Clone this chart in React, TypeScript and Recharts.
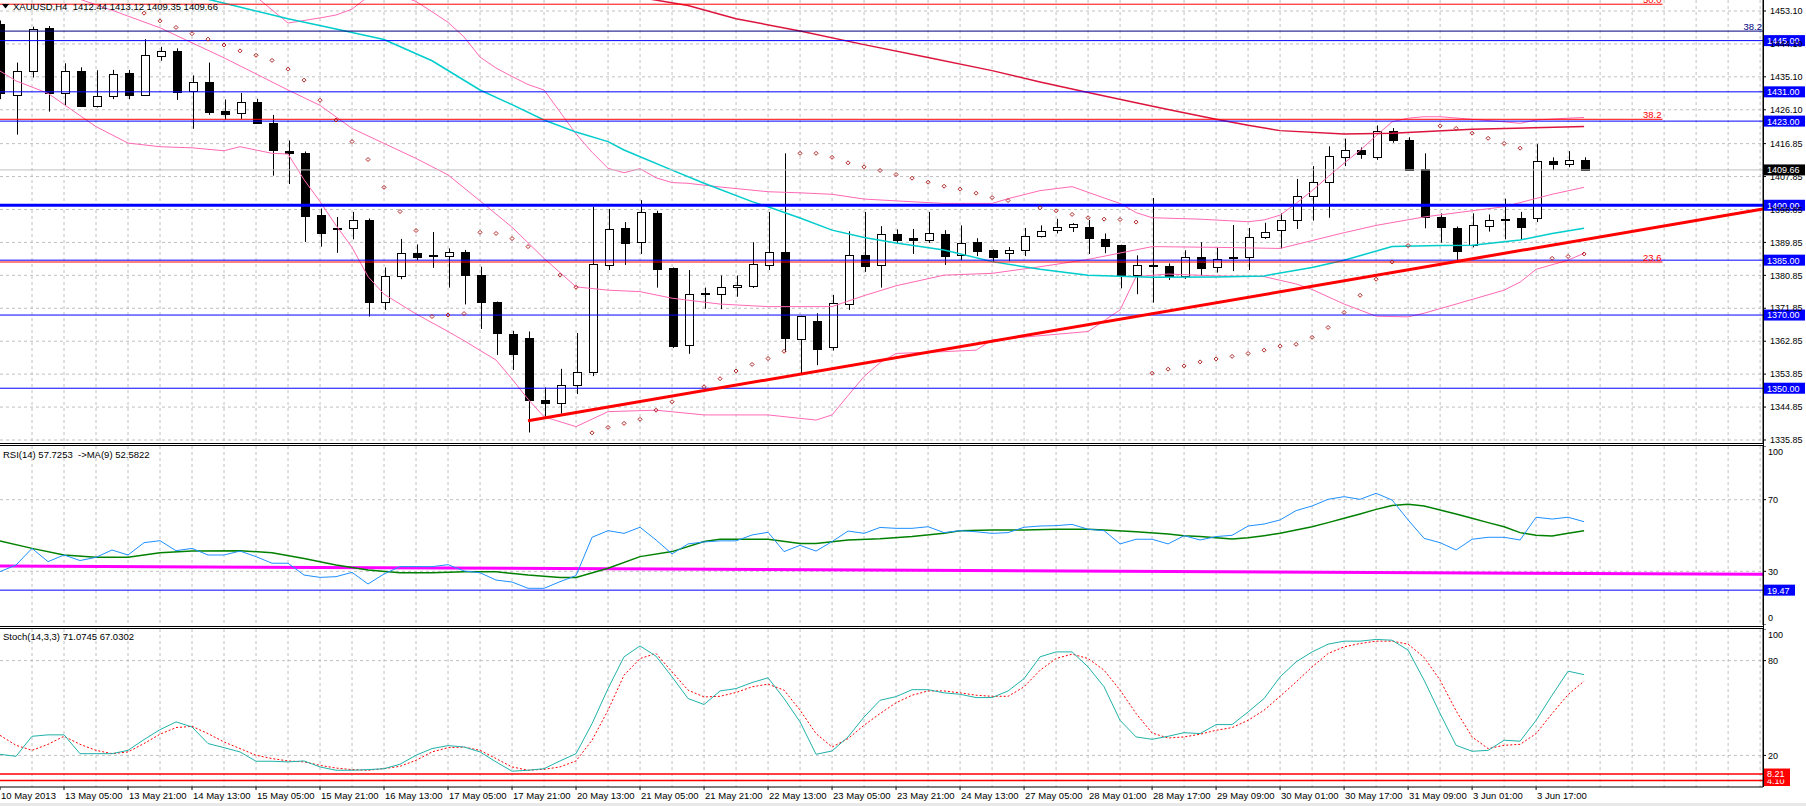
import React from "react";
import {
  Bar,
  CartesianGrid,
  ComposedChart,
  Line,
  ReferenceLine,
  Scatter,
  XAxis,
  YAxis,
} from "recharts";

const FONT = '"Liberation Sans", Arial, sans-serif';
const W = 1806;
const AXIS_W = 43;
const K_MAX = 110.18; // bar index at the right axis (16px per H4 bar)
const P_MIN = 1335.03;
const P_MAX = 1456.1;

// XAUUSD H4 bars: open, high, low, close
const candles: number[][] = [
  [1449.5, 1450.5, 1429.0, 1430.6], [1430.05, 1439.0, 1419.3, 1436.7], [1436.6, 1448.8, 1434.9, 1448.1],
  [1448.4, 1449.0, 1425.6, 1430.6], [1430.6, 1438.8, 1427.1, 1436.7], [1436.7, 1437.7, 1427.0, 1427.2],
  [1427.3, 1436.9, 1426.7, 1430.0], [1429.7, 1437.0, 1429.0, 1435.8], [1436.1, 1437.0, 1429.0, 1430.2],
  [1430.2, 1445.4, 1429.9, 1441.1], [1440.9, 1443.3, 1439.5, 1442.2], [1442.2, 1442.9, 1428.8, 1430.9],
  [1431.2, 1435.5, 1420.9, 1433.7], [1433.7, 1439.0, 1424.7, 1425.6], [1425.8, 1428.9, 1423.3, 1425.0],
  [1425.0, 1430.7, 1423.6, 1428.1], [1428.1, 1429.1, 1422.2, 1422.3], [1422.4, 1424.7, 1408.1, 1414.9],
  [1414.7, 1417.7, 1405.8, 1414.1], [1414.2, 1414.7, 1390.0, 1396.9], [1397.3, 1399.1, 1388.7, 1392.5],
  [1393.8, 1396.8, 1387.0, 1393.6], [1393.6, 1398.2, 1390.7, 1395.9], [1395.9, 1396.4, 1369.6, 1373.4],
  [1373.4, 1383.0, 1371.4, 1380.6], [1380.5, 1390.8, 1379.8, 1386.9], [1386.9, 1389.3, 1385.0, 1385.7],
  [1386.4, 1392.7, 1382.9, 1386.0], [1386.0, 1388.2, 1377.5, 1387.1], [1387.2, 1387.8, 1372.9, 1380.8],
  [1380.9, 1383.2, 1366.2, 1373.4], [1373.6, 1373.7, 1359.1, 1365.0], [1364.8, 1365.7, 1355.0, 1359.2],
  [1363.6, 1365.5, 1337.9, 1346.6], [1346.8, 1350.2, 1342.2, 1346.1], [1345.9, 1355.3, 1343.1, 1350.8],
  [1350.8, 1365.1, 1348.4, 1354.3], [1354.3, 1399.6, 1353.3, 1383.9], [1383.6, 1399.0, 1382.3, 1393.4],
  [1393.8, 1395.4, 1383.7, 1389.8], [1389.8, 1401.4, 1386.7, 1398.1], [1397.9, 1398.5, 1377.5, 1382.7],
  [1382.9, 1383.0, 1361.0, 1361.5], [1361.7, 1382.3, 1359.4, 1375.7], [1375.8, 1377.5, 1371.7, 1376.1],
  [1375.7, 1380.8, 1371.6, 1377.7], [1377.6, 1380.8, 1375.0, 1378.1], [1377.8, 1389.9, 1377.4, 1383.9],
  [1383.5, 1398.2, 1382.3, 1387.1], [1387.1, 1414.2, 1359.9, 1363.5], [1363.5, 1369.8, 1353.9, 1369.7],
  [1368.3, 1370.5, 1356.3, 1360.7], [1361.1, 1375.5, 1360.3, 1373.2], [1372.8, 1392.9, 1371.4, 1386.3],
  [1386.3, 1398.2, 1381.8, 1383.2], [1383.5, 1394.3, 1377.5, 1392.1], [1392.1, 1393.4, 1389.6, 1390.5],
  [1391.0, 1393.5, 1386.7, 1390.5], [1390.3, 1398.2, 1389.7, 1392.3], [1392.1, 1393.2, 1383.7, 1386.1],
  [1386.2, 1394.5, 1385.0, 1389.6], [1390.0, 1391.0, 1386.1, 1387.6], [1387.8, 1387.9, 1384.6, 1385.9],
  [1387.1, 1388.6, 1384.7, 1387.8], [1387.8, 1393.8, 1386.1, 1391.7], [1391.8, 1394.5, 1391.2, 1393.1],
  [1393.1, 1396.3, 1392.3, 1394.0], [1394.0, 1395.1, 1392.7, 1394.8], [1394.0, 1396.0, 1386.7, 1390.9],
  [1390.8, 1392.3, 1386.9, 1389.0], [1389.1, 1389.2, 1377.3, 1380.9], [1381.0, 1386.3, 1375.7, 1383.6],
  [1383.6, 1402.0, 1373.4, 1383.2], [1383.3, 1384.1, 1379.6, 1380.7], [1380.7, 1387.7, 1379.9, 1385.8],
  [1385.8, 1389.9, 1380.7, 1382.9], [1382.9, 1388.5, 1381.6, 1385.2], [1385.5, 1394.6, 1382.0, 1385.8],
  [1385.7, 1393.8, 1382.3, 1391.2], [1391.1, 1395.2, 1390.8, 1392.6], [1393.3, 1397.8, 1388.2, 1395.9],
  [1395.9, 1407.2, 1393.5, 1402.4], [1402.4, 1410.7, 1395.8, 1406.3], [1406.3, 1416.1, 1396.6, 1413.4],
  [1413.1, 1418.2, 1410.7, 1415.0], [1415.0, 1415.8, 1412.7, 1413.9], [1413.3, 1421.8, 1412.4, 1420.4],
  [1420.4, 1421.1, 1417.1, 1418.0], [1417.8, 1418.6, 1409.5, 1409.6], [1409.9, 1414.2, 1393.7, 1396.7],
  [1396.7, 1397.8, 1389.8, 1393.9], [1393.7, 1394.2, 1384.9, 1387.3], [1389.1, 1397.8, 1388.5, 1394.5],
  [1394.5, 1397.5, 1392.8, 1396.1], [1396.1, 1401.8, 1390.7, 1396.2], [1396.4, 1398.2, 1390.7, 1393.9],
  [1396.3, 1416.7, 1395.4, 1412.0], [1412.0, 1413.1, 1409.6, 1411.1], [1411.2, 1414.8, 1410.4, 1412.3],
  [1412.44, 1413.12, 1409.35, 1409.66],
];

// indicator readings as [bar, value]
const bbUpper = [
  [0, 1468], [4, 1467], [8, 1465], [12, 1463], [15, 1460], [16, 1457], [17, 1453.4], [18, 1449.8],
  [19, 1450.5], [20, 1451.2], [21, 1452], [22, 1453.6], [23, 1457], [24, 1458], [25, 1457.3], [26, 1455.7],
  [27, 1452.9], [28, 1450], [29, 1446], [30, 1440.5], [31, 1437.5], [32, 1435.2], [33, 1433], [34, 1431.5],
  [35, 1425.5], [36, 1419.5], [37, 1414.5], [38, 1410.1], [39, 1408.9], [40, 1410], [41, 1407.5],
  [42, 1406.2], [43, 1406], [45, 1405], [48, 1403.7], [50, 1403.4], [52, 1403], [54, 1401.7], [56, 1401.2],
  [59, 1400.5], [62, 1400.5], [63, 1401.8], [65, 1404], [67, 1405.1], [69, 1402], [70, 1400.5], [71, 1398],
  [72, 1396.6], [75, 1396.2], [78, 1395.5], [79, 1396], [80, 1397.3], [81, 1400.5], [82, 1404],
  [83, 1407.8], [84, 1411.5], [85, 1415], [86, 1419], [87, 1422.8], [88, 1423.8], [89, 1424.2],
  [90, 1424.2], [92, 1423.5], [94, 1422.8], [95, 1422.4], [96, 1423.3], [98, 1423.8], [99, 1424],
];
const bbMiddle = [
  [0, 1463], [3, 1458.5], [5, 1456.3], [7, 1453.3], [10, 1448.5], [14, 1440.3], [18, 1431.5], [20, 1427.3],
  [22, 1421], [24, 1416.9], [26, 1412.8], [28, 1408.3], [30, 1401.2], [32, 1394], [34, 1385.5], [36, 1377.7],
  [38, 1376.8], [40, 1376.4], [42, 1374.6], [45, 1373], [48, 1372.3], [52, 1372.3], [54, 1375.3],
  [56, 1378], [59, 1380.9], [62, 1381.4], [65, 1383.2], [68, 1385.2], [72, 1388.7], [76, 1388.5],
  [80, 1388.2], [84, 1392.5], [86, 1394.5], [89, 1396.8], [92, 1398.5], [94, 1399.6], [97, 1403], [99, 1404.9],
];
const bbLower = [
  [0, 1436.7], [1, 1434], [3, 1430.6], [5, 1424.5], [6, 1421.5], [8, 1417], [10, 1416], [12, 1415.7],
  [14, 1414.9], [15, 1416], [17, 1414.2], [18, 1414], [19, 1407], [20, 1401], [21, 1394.5], [22, 1388.5],
  [23, 1380.5], [24, 1375.7], [26, 1370.3], [28, 1365.5], [29, 1363], [31, 1357.7], [32, 1352.5],
  [33, 1347], [34, 1342.2], [36, 1339.5], [38, 1343.6], [41, 1344], [44, 1342.7], [48, 1342.7],
  [51, 1341.3], [52, 1342.7], [53, 1348], [54, 1353.2], [55, 1357], [56, 1359.5], [59, 1360], [61, 1360.4],
  [62, 1363.2], [68, 1365.5], [70, 1371.4], [71, 1380.5], [73, 1381.2], [76, 1380.7], [79, 1380.5],
  [81, 1378.5], [82, 1377], [84, 1373], [86, 1369.7], [88, 1369.5], [89, 1370.5], [91, 1373], [94, 1376.8],
  [95, 1379], [96, 1382.5], [98, 1385], [99, 1386.9],
];
const maCyan = [
  [0, 1466], [5, 1462], [10, 1458.5], [13, 1456.3], [18, 1451], [21, 1448.2], [24, 1445.3], [27, 1439.5],
  [30, 1431.5], [32, 1427.5], [34, 1423.3], [36, 1420], [38, 1417.4], [39, 1415.1], [42, 1409.6],
  [44, 1406], [47, 1401], [48, 1399.6], [50, 1396.5], [52, 1393.2], [54, 1391.2], [56, 1389.7],
  [59, 1387.8], [62, 1384.6], [65, 1382.5], [68, 1380.9], [72, 1380.3], [76, 1380.4], [79, 1380.7],
  [82, 1383], [84, 1385], [87, 1388.7], [90, 1389], [92, 1389.1], [95, 1390.5], [97, 1392.3], [99, 1393.7],
];
const maRed = [
  [0, 1475], [20, 1467], [35, 1460], [40, 1456.8], [43, 1454.6], [46, 1451], [50, 1447.6], [54, 1443.9],
  [58, 1440.4], [62, 1436.8], [65, 1433.7], [68, 1430.8], [71, 1428], [73, 1426.2], [76, 1423.5],
  [78, 1421.9], [80, 1420.4], [84, 1419.5], [87, 1419.7], [92, 1420.8], [99, 1421.5],
];
const sar = [
  [9, 1452.5], [10, 1450.4], [11, 1448.6], [12, 1446.9], [13, 1445.4], [14, 1443.8], [15, 1442.2],
  [16, 1441.0], [17, 1439.6], [18, 1437.2], [19, 1434.2], [20, 1428.7], [21, 1423.3], [22, 1417.4],
  [23, 1412.5], [24, 1404.9], [25, 1398.3], [26, 1393.1], [27, 1369.6], [28, 1370.0], [29, 1370.4],
  [30, 1392.6], [31, 1392.3], [32, 1390.9], [33, 1388.7], [35, 1380.9], [36, 1377.6], [37, 1337.8],
  [38, 1339.3], [39, 1340.4], [40, 1341.5], [41, 1344.0], [42, 1346.3], [44, 1350.4], [45, 1352.6],
  [46, 1354.7], [47, 1356.5], [48, 1358.1], [49, 1360.1], [50, 1414.2], [51, 1414.2], [52, 1413.1],
  [53, 1411.6], [54, 1410.5], [55, 1409.5], [56, 1408.4], [57, 1407.4], [58, 1406.3], [59, 1405.2],
  [60, 1404.4], [61, 1403.3], [62, 1402.1], [63, 1401.3], [65, 1399.3], [66, 1398.5], [67, 1397.5],
  [68, 1396.6], [69, 1396.2], [70, 1396.1], [71, 1395.4], [72, 1354.1], [73, 1355.2], [74, 1356.1],
  [75, 1357.2], [76, 1358.0], [77, 1358.7], [78, 1359.5], [79, 1360.4], [80, 1361.5], [81, 1362.0],
  [82, 1363.9], [83, 1366.6], [84, 1370.7], [85, 1375.4], [86, 1379.8], [87, 1384.5], [88, 1389.0],
  [90, 1421.7], [91, 1421.0], [92, 1419.7], [93, 1418.3], [94, 1416.9], [95, 1415.6], [97, 1385.5],
  [98, 1386.0], [99, 1386.7],
];

const rsi = [
  29.8, 33.5, 42.8, 35.4, 39.1, 36.0, 37.8, 41.9, 39.1, 46.0,
  47.1, 41.5, 42.8, 39.1, 39.1, 41.3, 38.2, 34.5, 34.5, 27.9,
  26.6, 27.0, 29.4, 22.9, 28.5, 32.6, 32.6, 32.6, 33.7, 30.2,
  29.2, 25.1, 24.0, 20.5, 20.5, 24.2, 27.6, 49.0, 52.7, 51.2,
  54.6, 47.5, 39.7, 45.3, 46.4, 47.0, 47.0, 50.3, 51.8, 41.0,
  44.5, 41.3, 46.6, 52.5, 51.2, 54.5, 54.0, 54.0, 54.9, 51.6,
  52.7, 52.1, 51.2, 51.6, 54.6, 55.3, 55.5, 56.2, 53.5, 52.7,
  45.3, 47.9, 47.9, 45.3, 49.9, 47.5, 49.4, 50.1, 55.3, 56.4,
  58.7, 63.9, 66.5, 70.2, 71.7, 70.2, 73.6, 69.8, 58.7, 48.4,
  46.0, 41.9, 47.9, 49.0, 49.0, 47.5, 60.2, 59.2, 60.2, 57.7,
];
const rsiMa = [
  [0, 46.9], [2, 42.8], [4, 39.1], [6, 37.8], [8, 37.8], [10, 40.4], [12, 41.3], [15, 41.5], [17, 40.4],
  [19, 37.2], [21, 33.5], [23, 30.7], [25, 29.2], [27, 29.2], [29, 29.8], [31, 29.8], [33, 27.9],
  [35, 26.6], [36, 26.6], [38, 31.7], [40, 38.2], [42, 41.0], [44, 46.6], [45, 47.9], [48, 47.9],
  [50, 45.6], [51, 45.6], [53, 47.5], [55, 48.2], [57, 49.4], [59, 51.2], [60, 52.7], [62, 53.1],
  [64, 53.1], [66, 53.5], [68, 53.5], [69, 53.1], [71, 52.1], [73, 50.8], [74, 49.9], [75, 49.4],
  [76, 48.8], [77, 48.0], [78, 48.8], [79, 49.9], [80, 51.2], [81, 53.1], [82, 54.9], [83, 57.2],
  [84, 59.6], [85, 62.0], [86, 64.6], [87, 66.7], [88, 67.4], [89, 66.5], [90, 64.3], [91, 62.0],
  [92, 59.6], [93, 57.2], [94, 54.9], [95, 51.6], [96, 50.1], [97, 49.7], [98, 51.2], [99, 52.6],
];
const stochK = [
  20.7, 19.4, 32.1, 33.0, 33.0, 21.1, 21.1, 21.1, 23.2, 30.0,
  36.3, 41.2, 38.0, 27.5, 24.9, 22.2, 16.3, 16.3, 15.9, 16.5,
  12.7, 10.6, 10.6, 11.0, 11.6, 14.4, 20.1, 24.3, 26.2, 25.3,
  22.2, 15.9, 10.0, 10.6, 11.6, 16.5, 21.1, 40.1, 62.3, 82.4,
  89.3, 82.8, 69.7, 56.0, 52.2, 60.8, 62.3, 66.1, 69.1, 56.0,
  41.2, 20.7, 22.8, 31.7, 44.3, 54.9, 57.2, 61.6, 61.6, 59.6,
  58.7, 56.6, 56.6, 60.8, 68.6, 82.4, 85.5, 85.5, 76.0, 63.4,
  42.2, 31.7, 30.2, 32.1, 34.4, 33.8, 39.5, 39.5, 47.5, 56.0,
  69.7, 79.2, 85.5, 90.4, 92.3, 92.3, 93.4, 92.9, 86.6, 67.6,
  46.5, 26.4, 22.6, 23.2, 29.6, 29.0, 42.2, 58.1, 73.3, 71.1,
];
const stochD = [
  32.7, 26.4, 23.2, 27.0, 32.1, 27.0, 23.2, 21.1, 22.2, 27.5,
  33.4, 37.6, 38.4, 33.8, 28.5, 24.3, 20.1, 18.0, 16.5, 15.9,
  13.7, 12.0, 11.0, 10.6, 11.6, 13.1, 16.9, 22.2, 24.9, 25.3,
  23.2, 18.0, 12.7, 10.6, 11.2, 12.7, 16.5, 29.6, 48.6, 70.8,
  81.3, 84.5, 72.9, 61.3, 57.0, 57.4, 59.8, 63.4, 65.1, 61.3,
  48.6, 33.8, 25.3, 30.6, 39.1, 46.5, 53.3, 58.1, 60.8, 60.8,
  59.6, 58.1, 57.4, 57.4, 63.4, 73.9, 81.3, 84.1, 81.3, 73.9,
  61.3, 46.5, 34.2, 31.0, 31.7, 33.4, 35.9, 37.6, 42.2, 48.6,
  57.4, 66.5, 76.0, 84.5, 88.7, 90.8, 92.3, 92.3, 90.4, 82.0,
  67.6, 48.2, 31.7, 24.3, 26.4, 27.0, 33.8, 46.5, 58.5, 67.0,
];

const xLabels = [
  "10 May 2013", "13 May 05:00", "13 May 21:00", "14 May 13:00", "15 May 05:00", "15 May 21:00",
  "16 May 13:00", "17 May 05:00", "17 May 21:00", "20 May 13:00", "21 May 05:00", "21 May 21:00",
  "22 May 13:00", "23 May 05:00", "23 May 21:00", "24 May 13:00", "27 May 05:00", "28 May 01:00",
  "28 May 17:00", "29 May 09:00", "30 May 01:00", "30 May 17:00", "31 May 09:00", "3 Jun 01:00",
  "3 Jun 17:00",
];
const priceTicks = [
  1453.1, 1444.1, 1435.1, 1426.1, 1416.85, 1407.85, 1398.85, 1389.85, 1380.85, 1371.85, 1362.85,
  1353.85, 1344.85, 1335.85,
];
const blueLevels = [1445, 1431, 1423, 1400, 1385, 1370, 1350];
const fibLevels = [1454.95, 1423.5, 1384.5];
const fibNames = ["50.0", "38.2", "23.6"];
const fibEnd = 103.9;
const navyLevel = 1447.6;
const lastClose = 1409.66;
const trend = [
  [33, 1341.1],
  [K_MAX, 1399.0],
];
const rsiTrend = [
  [0, 33.0],
  [K_MAX, 28.3],
];
const rsiLevel = 19.47;
const stochLevels = [4.1, 8.21];

const gridK = Array.from({ length: 55 }, (_, i) => (i + 1) * 2);
const labelK = xLabels.map((_, i) => i * 4);

const lookup = (pairs: number[][], k: number) => {
  const hit = pairs.find((p) => p[0] === k);
  return hit ? hit[1] : null;
};

const rows = candles.map(([open, high, low, close], k) => ({
  k,
  open,
  high,
  low,
  close,
  range: [low, high],
  bbU: lookup(bbUpper, k),
  bbM: lookup(bbMiddle, k),
  bbL: lookup(bbLower, k),
  maC: lookup(maCyan, k),
  maR: lookup(maRed, k),
  rsi: rsi[k],
  rsiMa: lookup(rsiMa, k),
  stK: stochK[k],
  stD: stochD[k],
}));

const sarRows = sar.map(([k, v]) => ({ k, v }));
const mainTags = [
  ...blueLevels.map((v) => ({ k: K_MAX, v, text: v.toFixed(2), bg: "#0000ff" })),
  { k: K_MAX, v: lastClose, text: lastClose.toFixed(2), bg: "#000000" },
];
const rsiTags = [{ k: K_MAX, v: rsiLevel, text: rsiLevel.toFixed(2), bg: "#0000ff" }];
const stochTags = stochLevels.map((v) => ({ k: K_MAX, v, text: v.toFixed(2), bg: "#ff0000" }));

function Candle(props: any) {
  const { x, y, width, height, payload } = props;
  if (!payload || !Number.isFinite(y) || !Number.isFinite(x)) return null;
  const top = Math.min(y, y + height);
  const bottom = Math.max(y, y + height);
  const span = payload.high - payload.low || 1;
  const py = (v: number) => top + ((payload.high - v) / span) * (bottom - top);
  const c = Math.round(x + width / 2);
  const yo = py(payload.open);
  const yc = py(payload.close);
  const up = payload.close >= payload.open;
  const bTop = Math.round(Math.min(yo, yc)) + 0.5;
  const bH = Math.max(1, Math.round(Math.abs(yc - yo)));
  return (
    <g>
      <line x1={c + 0.5} x2={c + 0.5} y1={top} y2={bottom} stroke="#000" strokeWidth={1} />
      <rect x={c - 3.5} y={bTop} width={8} height={bH} fill={up ? "#fff" : "#000"} stroke="#000" strokeWidth={1} />
    </g>
  );
}

function SarDot({ cx, cy }: any) {
  if (!Number.isFinite(cx) || !Number.isFinite(cy)) return null;
  return (
    <path
      d={`M${cx},${cy - 2}L${cx + 2},${cy}L${cx},${cy + 2}L${cx - 2},${cy}Z`}
      fill="none"
      stroke="#b22222"
      strokeWidth={1}
    />
  );
}

function Tag({ cx, cy, payload }: any) {
  if (!Number.isFinite(cx) || !Number.isFinite(cy)) return null;
  const w = payload.text.length * 5 + 6;
  return (
    <g>
      <rect x={cx + 1} y={cy - 5.5} width={w} height={11} fill={payload.bg} />
      <text x={cx + 4} y={cy + 3.4} fontSize={9} fill="#fff" fontFamily={FONT}>
        {payload.text}
      </text>
    </g>
  );
}

function PriceTick({ x, y, payload }: any) {
  return (
    <text x={x} y={y} dy={3.2} fontSize={9} fill="#000" fontFamily={FONT}>
      {Number(payload.value).toFixed(2)}
    </text>
  );
}

function PanelTick({ x, y, payload }: any) {
  const v = payload.value;
  const shift = v === 100 ? 6 : v === 0 ? -7 : 0;
  return (
    <text x={x} y={y + shift} dy={3.2} fontSize={9} fill="#000" fontFamily={FONT}>
      {v}
    </text>
  );
}

function TimeTick({ x, y, payload }: any) {
  const label = xLabels[Math.round(payload.value / 4)];
  return (
    <text x={x + 1} y={y} dy={7} fontSize={9.5} fill="#000" fontFamily={FONT}>
      {label}
    </text>
  );
}

const grid = { stroke: "#c0c0c0", strokeDasharray: "3 3" };
const line = (key: string, color: string, width = 1) => (
  <Line
    key={key}
    yAxisId="p"
    dataKey={key}
    stroke={color}
    strokeWidth={width}
    dot={false}
    activeDot={false}
    connectNulls
    isAnimationActive={false}
  />
);

function hline(top: number) {
  return <div style={{ position: "absolute", left: 0, top, width: W - AXIS_W + 1, height: 1, background: "#000" }} />;
}

export default function App() {
  return (
    <div
      style={{
        position: "absolute",
        left: 0,
        top: 0,
        width: W,
        height: 806,
        background: "#fff",
        overflow: "hidden",
        fontFamily: FONT,
      }}
    >
      {/* price window */}
      <div style={{ position: "absolute", left: 0, top: 0 }}>
        <ComposedChart width={W} height={445} data={rows} margin={{ top: 0, right: 0, bottom: 2, left: 0 }}>
          <CartesianGrid yAxisId="a" {...grid} horizontalValues={priceTicks} verticalValues={gridK} />
          <XAxis dataKey="k" type="number" domain={[0, K_MAX]} hide />
          <YAxis yAxisId="p" domain={[P_MIN, P_MAX]} allowDataOverflow hide />
          <YAxis
            yAxisId="a"
            orientation="right"
            width={AXIS_W}
            domain={[P_MIN, P_MAX]}
            ticks={priceTicks}
            interval={0}
            tick={<PriceTick />}
            tickSize={3}
            tickMargin={4}
            tickLine={{ stroke: "#000" }}
            axisLine={{ stroke: "#000" }}
          />
          <Bar yAxisId="p" dataKey="range" barSize={9} shape={(p: any) => <Candle {...p} />} isAnimationActive={false} />
          {line("bbU", "#ff69b4")}
          {line("bbM", "#ff69b4")}
          {line("bbL", "#ff69b4")}
          {line("maC", "#00cccc", 1.5)}
          {line("maR", "#dc143c", 1.5)}
          <Scatter yAxisId="p" data={sarRows} dataKey="v" shape={(p: any) => <SarDot {...p} />} isAnimationActive={false} />
          <ReferenceLine yAxisId="a" y={lastClose} stroke="#c0c0c0" />
          {fibLevels.map((v, i) => (
            <ReferenceLine
              key={"f" + i}
              yAxisId="a"
              segment={[{ x: 0, y: v }, { x: fibEnd, y: v }]}
              stroke="#ff0000"
              label={{ value: fibNames[i], position: "insideBottomRight", fill: "#ff0000", fontSize: 9.5, offset: 1 }}
            />
          ))}
          <ReferenceLine
            yAxisId="a"
            segment={[{ x: 0, y: navyLevel }, { x: K_MAX, y: navyLevel }]}
            stroke="#000080"
            label={{ value: "38.2", position: "insideBottomRight", fill: "#000080", fontSize: 9.5, offset: 1 }}
          />
          {blueLevels.map((v) => (
            <ReferenceLine key={"b" + v} yAxisId="a" y={v} stroke="#0000ff" strokeWidth={v === 1400 ? 3 : 1} />
          ))}
          <ReferenceLine
            yAxisId="a"
            segment={[{ x: trend[0][0], y: trend[0][1] }, { x: trend[1][0], y: trend[1][1] }]}
            stroke="#ff0000"
            strokeWidth={3}
          />
          <Scatter yAxisId="a" data={mainTags} dataKey="v" shape={(p: any) => <Tag {...p} />} isAnimationActive={false} />
        </ComposedChart>
      </div>

      {/* RSI window */}
      <div style={{ position: "absolute", left: 0, top: 446 }}>
        <ComposedChart width={W} height={179} data={rows} margin={{ top: 0, right: 0, bottom: 0, left: 0 }}>
          <CartesianGrid yAxisId="r" {...grid} horizontalValues={[30, 70]} verticalValues={gridK} />
          <XAxis dataKey="k" type="number" domain={[0, K_MAX]} hide />
          <YAxis
            yAxisId="r"
            orientation="right"
            width={AXIS_W}
            domain={[0, 100]}
            ticks={[0, 30, 70, 100]}
            interval={0}
            tick={<PanelTick />}
            tickSize={3}
            tickMargin={2}
            tickLine={{ stroke: "#000" }}
            axisLine={{ stroke: "#000" }}
          />
          <ReferenceLine yAxisId="r" y={rsiLevel} stroke="#0000ff" />
          <ReferenceLine
            yAxisId="r"
            segment={[{ x: rsiTrend[0][0], y: rsiTrend[0][1] }, { x: rsiTrend[1][0], y: rsiTrend[1][1] }]}
            stroke="#ff00ff"
            strokeWidth={3}
          />
          <Line yAxisId="r" dataKey="rsiMa" stroke="#008000" strokeWidth={1.5} dot={false} activeDot={false} connectNulls isAnimationActive={false} />
          <Line yAxisId="r" dataKey="rsi" stroke="#1e90ff" strokeWidth={1} dot={false} activeDot={false} isAnimationActive={false} />
          <Scatter yAxisId="r" data={rsiTags} dataKey="v" shape={(p: any) => <Tag {...p} />} isAnimationActive={false} />
        </ComposedChart>
      </div>

      {/* Stochastic window + time axis */}
      <div style={{ position: "absolute", left: 0, top: 629 }}>
        <ComposedChart width={W} height={177} data={rows} margin={{ top: 0, right: 0, bottom: 0, left: 0 }}>
          <CartesianGrid yAxisId="s" {...grid} horizontalValues={[20, 80]} verticalValues={gridK} />
          <XAxis
            dataKey="k"
            type="number"
            domain={[0, K_MAX]}
            ticks={labelK}
            interval={0}
            height={19}
            tick={<TimeTick />}
            tickSize={3}
            tickMargin={2}
            tickLine={{ stroke: "#000" }}
            axisLine={{ stroke: "#000" }}
          />
          <YAxis
            yAxisId="s"
            orientation="right"
            width={AXIS_W}
            domain={[0, 100]}
            ticks={[20, 80, 100]}
            interval={0}
            tick={<PanelTick />}
            tickSize={3}
            tickMargin={2}
            tickLine={{ stroke: "#000" }}
            axisLine={{ stroke: "#000" }}
          />
          {stochLevels.map((v) => (
            <ReferenceLine key={"s" + v} yAxisId="s" y={v} stroke="#ff0000" strokeWidth={1.5} />
          ))}
          <Line yAxisId="s" dataKey="stD" stroke="#ff0000" strokeWidth={1} strokeDasharray="2 2" dot={false} activeDot={false} isAnimationActive={false} />
          <Line yAxisId="s" dataKey="stK" stroke="#20b2aa" strokeWidth={1} dot={false} activeDot={false} isAnimationActive={false} />
          <Scatter yAxisId="s" data={stochTags} dataKey="v" shape={(p: any) => <Tag {...p} />} isAnimationActive={false} />
        </ComposedChart>
      </div>

      {/* window frames */}
      {hline(443)}
      {hline(445)}
      {hline(626)}
      {hline(628)}
      <div style={{ position: "absolute", left: W - AXIS_W, top: 0, width: 1, height: 787, background: "#000" }} />
      <div style={{ position: "absolute", left: 0, top: 803, width: W, height: 3, background: "#e8e8e8" }} />

      {/* window captions */}
      <svg style={{ position: "absolute", left: 2, top: 4 }} width={8} height={5}>
        <polygon points="0,0 7,0 3.5,4.5" fill="#000" />
      </svg>
      <div style={{ position: "absolute", left: 13, top: 0, fontSize: 9.5, lineHeight: "13px", whiteSpace: "pre", color: "#000" }}>
        {"XAUUSD,H4  1412.44 1413.12 1409.35 1409.66"}
      </div>
      <div style={{ position: "absolute", left: 3, top: 449, fontSize: 9.5, lineHeight: "12px", whiteSpace: "pre", color: "#000" }}>
        {"RSI(14) 57.7253  ->MA(9) 52.5822"}
      </div>
      <div style={{ position: "absolute", left: 3, top: 631, fontSize: 9.5, lineHeight: "12px", whiteSpace: "pre", color: "#000" }}>
        {"Stoch(14,3,3) 71.0745 67.0302"}
      </div>
    </div>
  );
}
